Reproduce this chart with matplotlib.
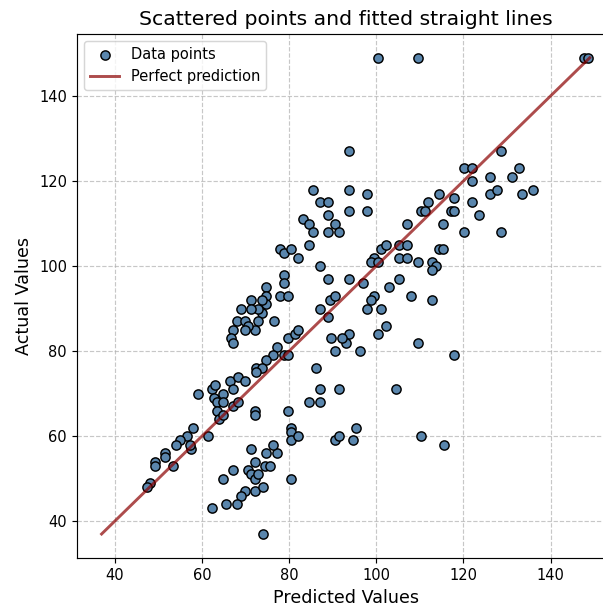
import numpy as np
import matplotlib
matplotlib.use('Agg')
import matplotlib.pyplot as plt

# predicted values (x) and actual values (y)
y_pred = [100.5, 109.6, 147.7, 148.6,
          93.7, 128.6,
          120.1, 121.9, 132.8,
          121.9, 126.0, 131.1,
          85.6, 93.7, 97.9, 114.4, 117.8, 126.0, 127.7, 133.4, 136.0,
          87.2, 88.9, 112.0, 121.9,
          93.7, 97.9, 110.2, 111.1, 117.1, 117.8, 123.6,
          83.2, 84.6, 85.5, 88.9, 90.5, 91.4, 88.9,
          107.0, 115.4, 120.2, 128.6,
          84.5, 77.9, 78.8, 80.5, 82.0,
          101.2, 102.2, 105.3, 107.0, 114.4, 115.4,
          99.5, 98.7, 100.5, 105.3, 107.0, 109.6, 112.8, 113.8, 112.8,
          87.2, 88.9, 93.7, 97.0, 105.3, 102.9,
          78.8, 78.8, 77.9, 79.7,
          99.5, 98.7, 107.9, 112.8, 97.9, 101.2,
          74.7, 74.7, 74.7, 73.8, 73.8, 72.9, 71.3, 71.2, 68.9,
          73.0, 72.2, 76.5, 68.1, 69.8, 70.6, 69.8, 67.2, 66.6, 67.2,
          87.2, 88.9, 89.3, 90.6,
          102.2, 100.5, 93.7, 93.0, 92.1, 109.6, 96.4, 117.8,
          89.7, 90.6,
          86.2, 79.7, 81.4, 82.0,
          78.8, 79.7, 77.3, 76.4, 74.7, 72.4, 73.9, 72.4,
          104.6, 95.3, 94.6, 110.3, 115.5,
          59.1, 62.3, 63.1, 62.8, 63.5, 64.9, 64.9, 63.5, 64.0, 64.9,
          66.4, 67.2, 68.3, 70.0, 67.2, 68.3,
          72.3, 72.3, 79.7, 84.6, 87.2, 87.2, 91.4,
          80.5, 80.5, 80.5, 82.0, 90.5, 91.4,
          58.0, 56.7, 57.4, 57.3, 55.0, 54.1,
          51.6, 51.6, 49.2, 49.2, 53.3, 61.4, 48.1, 47.5,
          71.3, 74.7, 77.3, 76.4,
          72.2, 70.6, 71.3, 72.2, 73.0, 74.5, 75.6,
          67.2, 64.8, 80.5,
          69.8, 68.9, 68.1, 72.2, 74.0, 65.6, 62.4, 74.0]

y_true = [149, 149, 149, 149,
          127, 127,
          123, 123, 123,
          120, 121, 121,
          118, 118, 117, 117, 116, 117, 118, 117, 118,
          115, 115, 115, 115,
          113, 113, 113, 113, 113, 113, 112,
          111, 110, 108, 112, 110, 108, 108,
          110, 110, 108, 108,
          105, 104, 103, 104, 102,
          104, 105, 105, 105, 104, 104,
          102, 101, 101, 102, 102, 101, 101, 100, 99,
          100, 97, 97, 96, 97, 95,
          98, 96, 93, 93,
          93, 92, 93, 92, 90, 90,
          95, 93, 91, 92, 89, 90, 92, 90, 90,
          87, 85, 87, 87, 87, 86, 85, 85, 83, 82,
          90, 88, 92, 93,
          86, 84, 84, 82, 83, 82, 80, 79,
          83, 80,
          76, 83, 84, 85,
          79, 79, 81, 79, 78, 76, 76, 75,
          71, 62, 59, 60, 58,
          70, 71, 72, 69, 68, 70, 68, 66, 64, 65,
          73, 71, 74, 73, 67, 68,
          66, 65, 66, 68, 68, 71, 71,
          62, 61, 59, 60, 59, 60,
          62, 60, 57, 58, 59, 58,
          56, 55, 54, 53, 53, 60, 49, 48,
          57, 56, 56, 58,
          54, 52, 51, 50, 51, 53, 53,
          52, 50, 50,
          47, 46, 44, 47, 48, 44, 43, 37]

y_pred = np.array(y_pred)
y_true = np.array(y_true)

DPI = 105
fig = plt.figure(figsize=(603 / DPI, 606 / DPI), dpi=DPI)
ax = fig.add_axes([0.128, 0.0795, 0.8905, 0.8645])

ax.scatter(y_pred, y_true, s=40, c='#5a86ad', edgecolors='black',
           linewidths=1, label='Data points', zorder=3)

# line y = x over the whole range of both series
lo = min(y_pred.min(), y_true.min())
hi = max(y_pred.max(), y_true.max())
ax.plot([lo, hi], [lo, hi], color='darkred', alpha=0.7, lw=2,
        label='Perfect prediction', zorder=4)

ax.set_title('Scattered points and fitted straight lines', fontsize=14)
ax.set_xlabel('Predicted Values', fontsize=12)
ax.set_ylabel('Actual Values', fontsize=12)
ax.grid(True, linestyle='--', alpha=0.7)
ax.legend(loc='upper left')

fig.savefig('out.png', dpi=DPI)
